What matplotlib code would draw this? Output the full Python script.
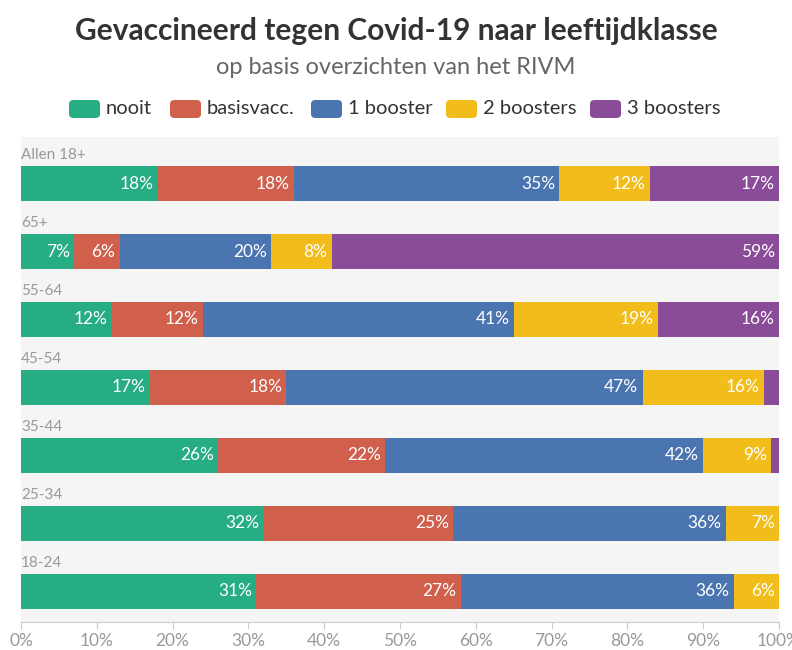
import matplotlib.pyplot as plt
from matplotlib.patches import FancyBboxPatch
import numpy as np

plt.rcParams['font.family'] = ['Lato', 'DejaVu Sans']

categories = ['Allen 18+', '65+', '55-64', '45-54', '35-44', '25-34', '18-24']
series = ['nooit', 'basisvacc.', '1 booster', '2 boosters', '3 boosters']
nooit = [18, 7, 12, 17, 26, 32, 31]
basisvacc = [18, 6, 12, 18, 22, 25, 27]
booster1 = [35, 20, 41, 47, 42, 36, 36]
booster2 = [12, 8, 19, 16, 9, 7, 6]
booster3 = [17, 59, 16, 2, 1, 0, 0]
ticks = [0, 10, 20, 30, 40, 50, 60, 70, 80, 90, 100]

colors = ['#26ad84', '#d05f4c', '#4a75b1', '#f2bc1a', '#8a4c98']

fig = plt.figure(figsize=(7.92, 6.5), dpi=100)
W, H = 792, 650
ax = fig.add_axes([21 / W, 1 - 622 / H, 758 / W, 485 / H])
ax.set_facecolor('#f5f5f5')

values = [nooit, basisvacc, booster1, booster2, booster3]
y = np.arange(len(categories))
left = np.zeros(len(categories))
for vals, col in zip(values, colors):
    vals = np.array(vals, dtype=float)
    ax.barh(y, vals, left=left, height=0.515, color=col, linewidth=0)
    for yi, l, v in zip(y, left, vals):
        if v >= 5:
            ax.annotate('%d%%' % v, (l + v, yi), xytext=(-3, 0), textcoords='offset points',
                        ha='right', va='center', color='white', fontsize=12.5)
    left += vals

for yi, cat in zip(y, categories):
    ax.text(0, yi - 0.42, cat, ha='left', va='center', color='#999999', fontsize=11)

ax.set_xlim(0, 100)
ax.set_ylim(6.449, -0.684)
ax.set_xticks(ticks)
ax.set_xticklabels(['%d%%' % t for t in ticks], color='#999999', fontsize=12.5)
ax.set_yticks([])
for s in ['top', 'right', 'left']:
    ax.spines[s].set_visible(False)
ax.spines['bottom'].set_color('#cccccc')
ax.tick_params(axis='x', length=5, color='#cccccc', pad=3)

fig.text(0.5, 1 - 31 / H, 'Gevaccineerd tegen Covid-19 naar leeftijdklasse',
         ha='center', va='center', fontsize=21.5, fontweight='bold', color='#333333')
fig.text(0.5, 1 - 68 / H, 'op basis overzichten van het RIVM',
         ha='center', va='center', fontsize=17, color='#666666')

# legend
patch_x = [69, 170, 311, 446, 590]
yc = 1 - 109 / H
for px, name, col in zip(patch_x, series, colors):
    fig.patches.append(FancyBboxPatch((px / W, yc - 9 / H), 31 / W, 18 / H,
                                      boxstyle='round,pad=0,rounding_size=0.006',
                                      transform=fig.transFigure, color=col, linewidth=0))
    fig.text((px + 37) / W, yc, name, ha='left', va='center', fontsize=14.5, color='#333333')

fig.savefig('out.png', dpi=100)
